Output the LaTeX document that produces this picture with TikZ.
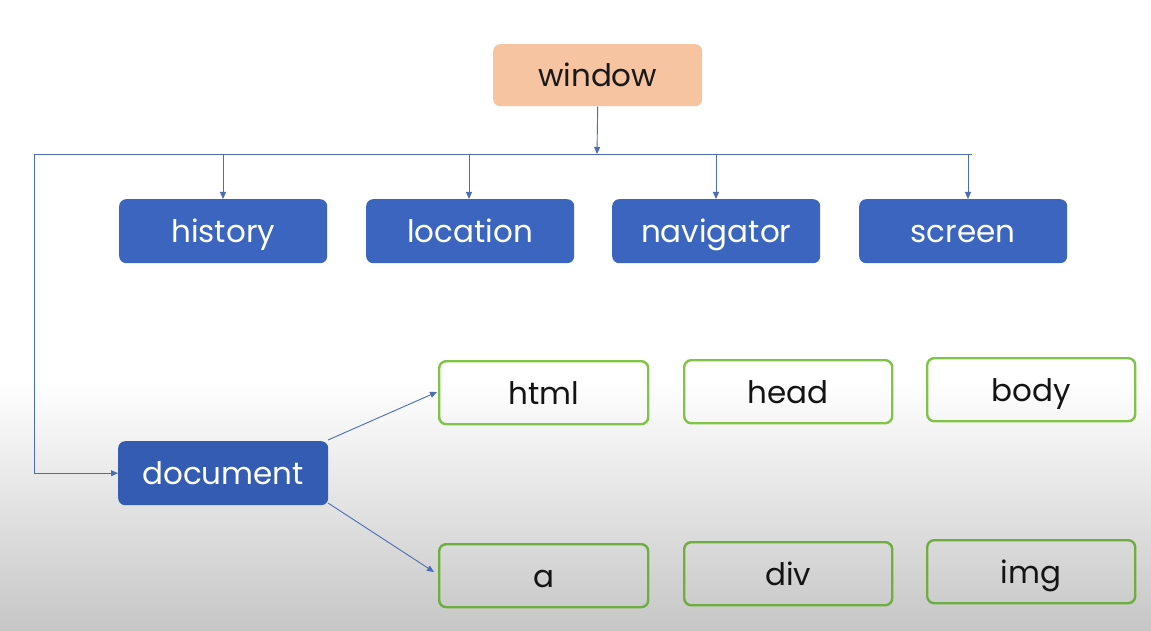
\documentclass[tikz,border=0pt]{standalone}
\usepackage{fontspec}
\setmainfont{Poppins}
\usetikzlibrary{arrows.meta}
\definecolor{peach}{HTML}{F7C4A1}
\definecolor{bluebox}{HTML}{3B65BE}
\definecolor{bluedark}{HTML}{335CB2}
\definecolor{linec}{HTML}{4A6DB3}
\definecolor{greenb}{HTML}{80C447}
\definecolor{greendark}{HTML}{6DAE3E}
\definecolor{bggray}{HTML}{C6C6C6}
\begin{document}
\begin{tikzpicture}[x=1pt,y=-1pt,
  base/.style={rounded corners=7pt, inner sep=0pt, font=\fontsize{31}{34}\selectfont, text height=23pt, text depth=0pt, anchor=north west},
  topbox/.style={base, fill=peach, text=black!90},
  bluenode/.style={base, fill=bluebox, text=white},
  greennode/.style={base, draw=greenb, line width=2.4pt, text=black!92},
  conn/.style={draw=linec, line width=0.9pt},
  arr/.style={conn, -{Triangle[length=7pt,width=6pt]}}]
\useasboundingbox (0,0) rectangle (1151,631);
\fill[white] (0,0) rectangle (1151,631);
\shade[top color=white, bottom color=bggray] (0,380) rectangle (1151,631);
% nodes
\node[topbox, minimum width=209pt, minimum height=62pt] (window) at (493,44) {window};
\node[bluenode, minimum width=208pt, minimum height=64pt] (history) at (119,199) {history};
\node[bluenode, minimum width=208pt, minimum height=64pt] (location) at (366,199) {location};
\node[bluenode, minimum width=208pt, minimum height=64pt] (navigator) at (612,199) {navigator};
\node[bluenode, minimum width=208pt, minimum height=64pt] (screen) at (859,199) {screen};
\node[bluenode, fill=bluedark, minimum width=210pt, minimum height=64pt] (document) at (118,441) {document};
\node[greennode, minimum width=209pt, minimum height=63pt] (html) at (438,360) {html};
\node[greennode, minimum width=208pt, minimum height=63pt] (head) at (683,359) {head};
\node[greennode, minimum width=208pt, minimum height=63pt] (body) at (926,357) {body};
\node[greennode, draw=greendark, minimum width=209pt, minimum height=63pt] (a) at (438,543) {a};
\node[greennode, draw=greendark, minimum width=208pt, minimum height=63pt] (div) at (683,541) {div};
\node[greennode, draw=greendark, minimum width=208pt, minimum height=63pt] (img) at (926,539) {img};
% connector coordinates
\coordinate (busL) at (34,154);
\coordinate (busR) at (972,154);
\coordinate (busM) at (597,154);
\coordinate (hT) at (223,154);
\coordinate (lT) at (469,154);
\coordinate (nT) at (716,154);
\coordinate (sT) at (968,154);
\coordinate (docA) at (328,440);
\coordinate (docB) at (328,503);
\coordinate (htmlIn) at (437,392);
\coordinate (aIn) at (434,572);
% connectors
\draw[arr] (window.south) -- (busM);
\draw[conn] (busL) -- (busR);
\draw[arr] (busL) |- (document.west);
\draw[arr] (hT) -- (hT |- history.north);
\draw[arr] (lT) -- (lT |- location.north);
\draw[arr] (nT) -- (nT |- navigator.north);
\draw[arr] (sT) -- (sT |- screen.north);
\draw[arr] (docA) -- (htmlIn);
\draw[arr] (docB) -- (aIn);
\end{tikzpicture}
\end{document}
